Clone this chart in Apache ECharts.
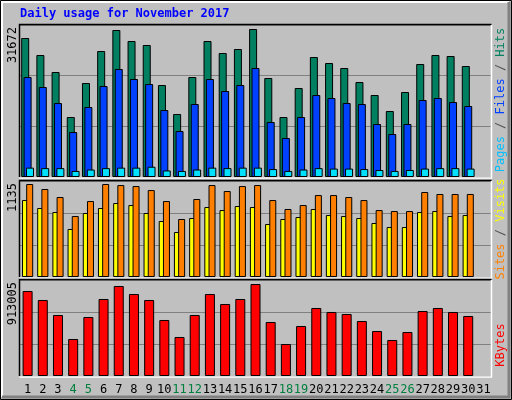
<!DOCTYPE html><html><head><meta charset="utf-8">
<script src="https://cdn.jsdelivr.net/npm/echarts@6/dist/echarts.min.js"></script>
<style>body{margin:0;background:#c0c0c0}#c{width:512px;height:400px}</style></head><body><div id="c"></div>
<script>
const days=[];for(let i=1;i<=31;i++)days.push(String(i));
const weekends=['4','5','11','12','18','19','25','26'];
const hits=[29746,26108,22470,12840,20116,26964,31458,29104,28248,19688,13482,21400,29104,26536,27392,31672,21186,12840,19046,25680,24396,23326,20330,17548,14124,18190,24182,26108,25894,23754,null];
const files=[21400,19260,15836,9630,14980,19474,23112,20972,19902,14338,9844,15622,20972,18404,19688,23326,11770,8346,12840,17548,16906,15836,15622,11342,9202,11342,16478,16906,16050,15194,null];
const pages=[2000,1900,1900,1300,1600,1900,2000,2000,2200,1400,1300,1600,2000,1900,2000,2000,1700,1300,1600,1900,1800,1800,1700,1500,1300,1500,1800,1900,1900,1800,null];
const visits=[939,842,793,586,781,842,903,878,781,683,549,720,854,817,866,854,647,708,732,830,756,744,720,659,610,610,793,805,744,756,null];
const sites=[1135,1074,976,744,927,1135,1122,1110,1061,927,708,952,1122,1049,1110,1122,939,830,878,1000,1000,976,939,817,805,805,1037,1013,1013,1013,null];
const kbytes=[843540,754224,605364,367188,585516,764148,893160,813768,754224,555744,387036,605364,813768,714528,764148,913005,535896,317568,496200,674832,635136,615288,545820,446580,357264,436656,645060,674832,635136,595440,null];
const maxLabels=['31672','1135','913005'];
const mono='"DejaVu Sans Mono", monospace';
const tops=[25,181,280], hs=[152,96,96];
const maxes=[31672*152/148,1135*96/93,913005*96/92];
const grids=tops.map((t,i)=>({left:20,width:471,top:t,height:hs[i]}));
const xAxes=grids.map((g,i)=>({type:'category',gridIndex:i,data:days,axisLine:{show:false},axisTick:{show:false},
 axisLabel:{show:i==2,interval:0,margin:8,fontFamily:mono,fontSize:12,color:v=>weekends.includes(v)?'#008040':'#000'}}));
const yAxes=grids.map((g,i)=>({type:'value',gridIndex:i,min:0,max:maxes[i],interval:maxes[i]/3,axisLabel:{show:false},axisLine:{show:false},axisTick:{show:false},splitLine:{lineStyle:{color:'#808080',width:1}}}));
const bs={borderColor:'#000',borderWidth:1};
const series=[
 {type:'bar',xAxisIndex:0,yAxisIndex:0,data:hits,barWidth:8,barGap:'-70%',itemStyle:{color:'#008060',...bs}},
 {type:'bar',xAxisIndex:0,yAxisIndex:0,data:files,barWidth:8,barGap:'-70%',itemStyle:{color:'#0040ff',...bs}},
 {type:'bar',xAxisIndex:0,yAxisIndex:0,data:pages,barWidth:8,barGap:'-70%',itemStyle:{color:'#00e0ff',...bs}},
 {type:'bar',xAxisIndex:1,yAxisIndex:1,data:visits,barWidth:7,barGap:'-40%',itemStyle:{color:'#ffff00',...bs}},
 {type:'bar',xAxisIndex:1,yAxisIndex:1,data:sites,barWidth:7,barGap:'-40%',itemStyle:{color:'#ff8000',...bs}},
 {type:'bar',xAxisIndex:2,yAxisIndex:2,data:kbytes,barWidth:10,itemStyle:{color:'#ff0000',...bs}}
];
const gfx=[
 {type:'rect',shape:{x:0.5,y:0.5,width:511,height:399},style:{fill:'none',stroke:'#000'}},
 {type:'polyline',shape:{points:[[2,397],[2,2],[509,2]]},style:{stroke:'#fff',lineWidth:2,fill:null}},
 {type:'polyline',shape:{points:[[2,397],[509,397],[509,2]]},style:{stroke:'#808080',lineWidth:3,fill:null}},
 {type:'text',left:20,top:8,style:{text:'Daily usage for November 2017',fill:'#0000ff',font:'bold 12px '+mono}}
];
tops.forEach((t,i)=>{const b=t+hs[i];
 gfx.push({type:'polyline',z:10,shape:{points:[[19.5,b],[19.5,t-0.5],[491.5,t-0.5]]},style:{stroke:'#000',lineWidth:1.5,fill:null}});
 gfx.push({type:'polyline',z:10,shape:{points:[[19.5,b+1],[491.5,b+1],[491.5,t]]},style:{stroke:'#fff',lineWidth:1.5,fill:null}});
 gfx.push({type:'text',x:7,y:t+2,rotation:Math.PI/2,style:{text:maxLabels[i],fill:'#000',font:'12px '+mono,align:'right',verticalAlign:'top'}});
});
function rlabel(y,parts){gfx.push({type:'text',x:495,y:y,rotation:Math.PI/2,style:{text:parts.map(p=>'{'+p[1]+'|'+p[0]+'}').join(''),align:'center',verticalAlign:'top',
 rich:{c:{fill:'#00c0ff',font:'12px '+mono},b:{fill:'#0040ff',font:'12px '+mono},g:{fill:'#008060',font:'12px '+mono},s:{fill:'#505050',font:'12px '+mono},o:{fill:'#ff8000',font:'12px '+mono},y:{fill:'#ffff00',font:'12px '+mono},r:{fill:'#ff0000',font:'12px '+mono}}}});}
rlabel(100,[['Pages','c'],[' / ','s'],['Files','b'],[' / ','s'],['Hits','g']]);
rlabel(229,[['Sites','o'],[' / ','s'],['Visits','y']]);
rlabel(345,[['KBytes','r']]);
const ch=echarts.init(document.getElementById('c'));
ch.setOption({backgroundColor:'#c0c0c0',animation:false,grid:grids,xAxis:xAxes,yAxis:yAxes,series,graphic:gfx});
</script></body></html>
